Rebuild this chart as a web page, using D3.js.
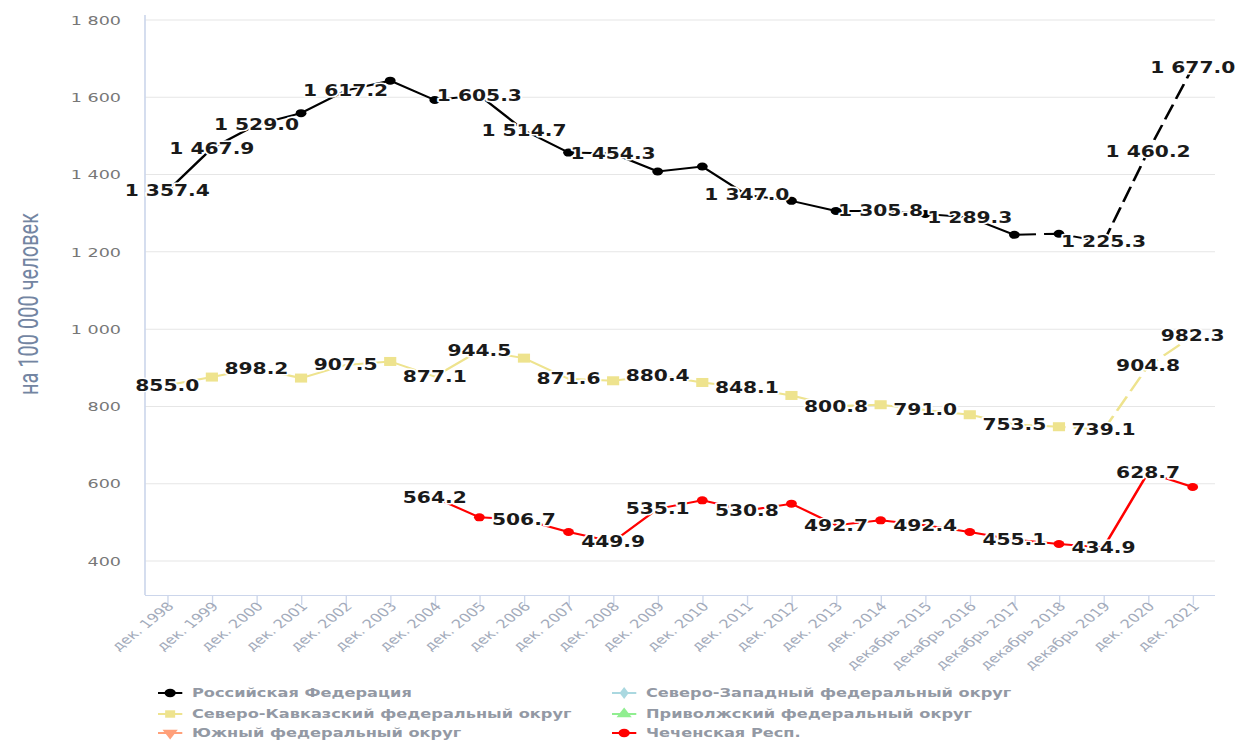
<!DOCTYPE html>
<html><head><meta charset="utf-8">
<script src="https://cdn.jsdelivr.net/npm/d3@7"></script>
<style>html,body{margin:0;padding:0;background:#fff;overflow:hidden}</style>
</head><body>
<svg id="chart"></svg>
<script>
// ---------- DATA ----------
const categories = ["дек. 1998","дек. 1999","дек. 2000","дек. 2001","дек. 2002","дек. 2003","дек. 2004",
  "дек. 2005","дек. 2006","дек. 2007","дек. 2008","дек. 2009","дек. 2010","дек. 2011","дек. 2012",
  "дек. 2013","дек. 2014","декабрь 2015","декабрь 2016","декабрь 2017","декабрь 2018","декабрь 2019",
  "дек. 2020","дек. 2021"];
const rfValues = [1357.4,1467.9,1529.0,1559,1617.2,1643,1593,1605.3,1514.7,1457,1454.3,1408,1421,1347.0,
  1332,1306,1305.8,1298,1289.3,1244,1247,1225.3,1460.2,1677.0];
const skValues = [855.0,876,898.2,873.4,907.5,916.4,877.1,944.5,925,871.6,866.4,880.4,862,848.1,828.4,
  800.8,804.4,791.0,778.5,753.5,747.5,739.1,904.8,982.3];
const chValues = [null,null,null,null,null,null,564.2,513,506.7,475,449.9,535.1,557,530.8,548.3,492.7,
  505.2,492.4,475,455.1,444,434.9,628.7,591.5];
const nwValues = [];
const pvValues = [];
const yuValues = [];
// indices of points whose data label is visible in the picture
const rfLabelIdx = [0,1,2,4,7,8,10,13,16,18,21,22,23];
const skLabelIdx = [0,2,4,6,7,9,11,13,15,17,19,21,22,23];
const chLabelIdx = [6,8,10,11,13,15,17,19,21,22];
const dashFromCategory = "декабрь 2017";
const yTicks = [400,600,800,1000,1200,1400,1600,1800];
const yTitle = "на 100 000 человек";
const seriesNames = ["Российская Федерация","Северо-Западный федеральный округ",
  "Северо-Кавказский федеральный округ","Приволжский федеральный округ",
  "Южный федеральный округ","Чеченская Респ."];

// ---------- LAYOUT ----------
const W = 1237, H = 740, S = 1.35, VW = W / S;
const vx = px => px / S;
const plotL = vx(145), plotR = vx(1215), plotT = 15, plotB = 595;

const svg = d3.select("#chart").attr("width", W).attr("height", H)
  .attr("viewBox", `0 0 ${VW} ${H}`).attr("preserveAspectRatio", "none")
  .style("font-family", "'DejaVu Sans', sans-serif");

const x = d3.scalePoint().domain(categories).range([plotL, plotR]).padding(0.5);
const y = d3.scaleLinear().domain([312, 1813]).range([plotB, plotT]);

const loc = d3.formatLocale({decimal: ".", thousands: " ", grouping: [3], currency: ["", ""]});
const fmtLabel = loc.format(",.1f");
const fmtTick = loc.format(",");

// grid
svg.append("g").selectAll("line").data(yTicks).join("line")
  .attr("x1", plotL).attr("x2", plotR).attr("y1", d => y(d)).attr("y2", d => y(d))
  .attr("stroke", "#e6e6e6").attr("stroke-width", 1);

// y axis
const yAxis = svg.append("g").attr("transform", `translate(${vx(121)},0)`)
  .call(d3.axisLeft(y).tickValues(yTicks).tickSize(0).tickFormat(fmtTick));
yAxis.select(".domain").remove();
yAxis.selectAll("text").attr("x", 0).attr("fill", "#777").style("font-size", "13px")
  .style("font-family", "'DejaVu Sans', sans-serif");
svg.append("line").attr("x1", plotL).attr("x2", plotL).attr("y1", plotT).attr("y2", plotB)
  .attr("stroke", "#ccd6eb").attr("stroke-width", 1.2);

// y title
svg.append("text").attr("transform", `translate(${vx(38)},${304}) rotate(-90)`)
  .attr("text-anchor", "middle").attr("fill", "#7385a2")
  .style("font-family", "Roboto, sans-serif").style("font-size", "20px").text(yTitle);

// x axis
const xAxis = svg.append("g").attr("transform", `translate(0,${plotB})`)
  .call(d3.axisBottom(x).tickSize(10).tickSizeOuter(0));
xAxis.select(".domain").attr("stroke", "#ccd6eb").attr("d", `M${plotL},0.5H${plotR}`);
xAxis.selectAll(".tick line").attr("stroke", "#ccd6eb");
xAxis.selectAll(".tick text")
  .attr("transform", "translate(2,9) rotate(-47)")
  .attr("text-anchor", "end").attr("dy", "0.35em").attr("y", 0).attr("x", 0)
  .attr("fill", "#a3abbb").style("font-size", "12px")
  .style("font-family", "'DejaVu Sans', sans-serif");

// series
const dashIdx = categories.indexOf(dashFromCategory);
const series = [
  {values: rfValues, color: "#000000", symbol: "circle", labels: rfLabelIdx, dashed: true},
  {values: skValues, color: "#eee38e", symbol: "square", labels: skLabelIdx, dashed: true},
  {values: chValues, color: "#ff0000", symbol: "circle", labels: chLabelIdx, dashed: false}
];
const line = d3.line().defined(d => d.v != null).x(d => x(d.c)).y(d => y(d.v));
const gLines = svg.append("g"), gMarks = svg.append("g"), gLabels = svg.append("g");

series.forEach(s => {
  const pts = categories.map((c, i) => ({c, v: s.values[i], i, lab: s.labels.includes(i)}));
  if (s.dashed) {
    gLines.append("path").attr("d", line(pts.filter(p => p.i <= dashIdx)))
      .attr("fill", "none").attr("stroke", s.color).attr("stroke-width", 2);
    gLines.append("path").attr("d", line(pts.filter(p => p.i >= dashIdx)))
      .attr("fill", "none").attr("stroke", s.color).attr("stroke-width", 2)
      .attr("stroke-dasharray", "16,6");
  } else {
    gLines.append("path").attr("d", line(pts)).attr("fill", "none")
      .attr("stroke", s.color).attr("stroke-width", 2);
  }
  const vis = pts.filter(p => p.v != null);
  const unl = vis.filter(p => !p.lab);
  if (s.symbol === "circle") {
    gMarks.selectAll(null).data(unl).join("circle")
      .attr("cx", d => x(d.c)).attr("cy", d => y(d.v)).attr("r", 4).attr("fill", s.color);
  } else {
    gMarks.selectAll(null).data(unl).join("rect")
      .attr("x", d => x(d.c) - 4.5).attr("y", d => y(d.v) - 4.5).attr("width", 9).attr("height", 9)
      .attr("fill", s.color);
  }
  gLabels.selectAll(null).data(vis.filter(p => p.lab)).join("text")
    .attr("x", d => x(d.c)).attr("y", d => y(d.v)).attr("dy", "0.36em")
    .attr("text-anchor", "middle").attr("fill", "#1a1a1a")
    .attr("stroke", "#fff").attr("stroke-width", 3).attr("stroke-linejoin", "round")
    .style("paint-order", "stroke").style("font-size", "15px").style("font-weight", "bold")
    .text(d => fmtLabel(d.v));
});

// legend
const legendItems = [
  {name: seriesNames[0], color: "#000000", sym: d3.symbolCircle, rot: 0, col: 0, row: 0, data: rfValues},
  {name: seriesNames[2], color: "#eee38e", sym: d3.symbolSquare, rot: 0, col: 0, row: 1, data: skValues},
  {name: seriesNames[4], color: "#ffa07a", sym: d3.symbolTriangle, rot: 180, col: 0, row: 2, data: yuValues},
  {name: seriesNames[1], color: "#aad8e0", sym: d3.symbolDiamond, rot: 0, col: 1, row: 0, data: nwValues},
  {name: seriesNames[3], color: "#90ee90", sym: d3.symbolTriangle, rot: 0, col: 1, row: 1, data: pvValues},
  {name: seriesNames[5], color: "#ff0000", sym: d3.symbolCircle, rot: 0, col: 1, row: 2, data: chValues}
];
const colX = [vx(158), vx(612)], rowY = [693, 714, 733];
const lg = svg.append("g").selectAll("g").data(legendItems).join("g")
  .attr("transform", d => `translate(${colX[d.col]},${rowY[d.row]})`);
lg.append("line").attr("x1", 0).attr("x2", 18).attr("y1", 0).attr("y2", 0)
  .attr("stroke", d => d.color).attr("stroke-width", 2);
lg.append("path").attr("transform", d => `translate(9,0) rotate(${d.rot})`)
  .attr("d", d => d3.symbol().type(d.sym).size(d.sym === d3.symbolDiamond ? 40 : 55)())
  .attr("fill", d => d.color);
lg.append("text").attr("x", vx(192) - vx(158)).attr("dy", "0.34em")
  .attr("fill", "#9399a4").style("font-size", "12px").style("font-weight", "bold")
  .text(d => d.name);
</script>
</body></html>
